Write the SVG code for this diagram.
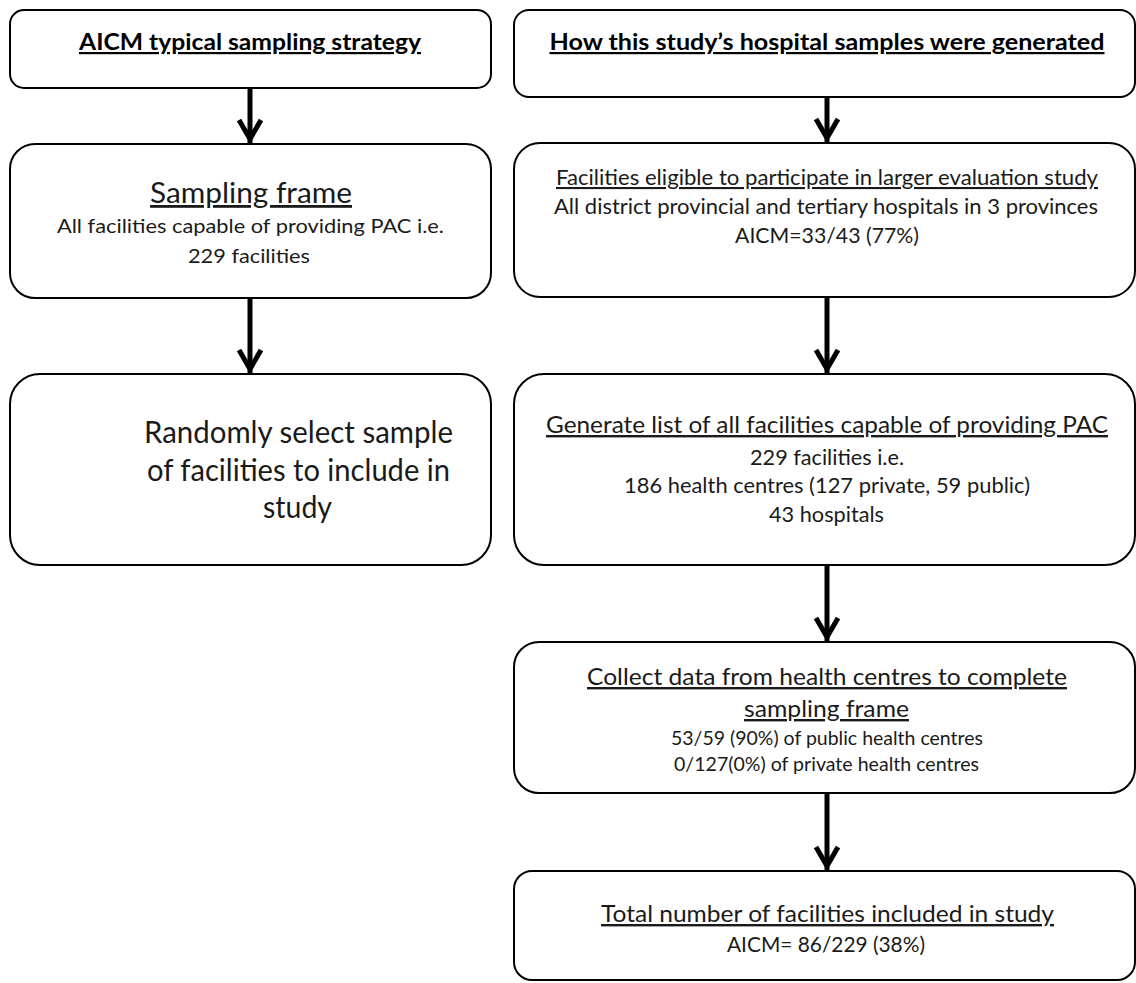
<svg xmlns="http://www.w3.org/2000/svg" width="1136" height="983" viewBox="0 0 1136 983">
<defs>
<style>
.box{fill:#fff;stroke:#000;stroke-width:2}
.t{font-family:Lato,"Open Sans","Liberation Sans",sans-serif;font-weight:400;fill:#1a1a1a;text-anchor:middle}
.b{font-weight:700;fill:#000}
.u{text-decoration:underline}
.conn{stroke:#000;stroke-width:5;fill:none}
</style>
<marker id="arr" markerUnits="userSpaceOnUse" viewBox="-30 -15 34 30" markerWidth="34" markerHeight="30" refX="0" refY="0" orient="auto">
<path d="M-24,-11 L-5,0 L-24,11" fill="none" stroke="#000" stroke-width="5" stroke-linejoin="miter"/>
</marker>
</defs>
<rect width="1136" height="983" fill="#fff"/>
<g id="connectors">
<line class="conn" x1="250" y1="89" x2="250" y2="144" marker-end="url(#arr)"/>
<line class="conn" x1="250" y1="299" x2="250" y2="374" marker-end="url(#arr)"/>
<line class="conn" x1="827" y1="98" x2="827" y2="143" marker-end="url(#arr)"/>
<line class="conn" x1="827" y1="298" x2="827" y2="374" marker-end="url(#arr)"/>
<line class="conn" x1="827" y1="566" x2="827" y2="642" marker-end="url(#arr)"/>
<line class="conn" x1="827" y1="794" x2="827" y2="871" marker-end="url(#arr)"/>
</g>
<g id="left-title">
<rect class="box" x="10" y="10" width="481" height="78" rx="14" ry="14"/>
<text class="t b u" x="250" y="50" font-size="22" textLength="342" lengthAdjust="spacingAndGlyphs">AICM typical sampling strategy</text>
</g>
<g id="left-sampling-frame">
<rect class="box" x="10" y="144" width="481" height="154" rx="25" ry="25"/>
<text class="t u" x="251" y="203" font-size="28" textLength="202" lengthAdjust="spacingAndGlyphs">Sampling frame</text>
<text class="t" x="250.5" y="233" font-size="20" textLength="387" lengthAdjust="spacingAndGlyphs">All facilities capable of providing PAC i.e.</text>
<text class="t" x="249" y="263" font-size="20" textLength="122" lengthAdjust="spacingAndGlyphs">229 facilities</text>
</g>
<g id="left-random-select">
<rect class="box" x="10" y="374" width="481" height="191" rx="30" ry="30"/>
<text class="t" x="298.5" y="443" font-size="31" textLength="309" lengthAdjust="spacingAndGlyphs">Randomly select sample</text>
<text class="t" x="298.5" y="481" font-size="31" textLength="303" lengthAdjust="spacingAndGlyphs">of facilities to include in</text>
<text class="t" x="297.5" y="518" font-size="31" textLength="69" lengthAdjust="spacingAndGlyphs">study</text>
</g>
<g id="right-title">
<rect class="box" x="514" y="10" width="621" height="87" rx="15" ry="15"/>
<text class="t b u" x="827" y="50" font-size="22" textLength="555" lengthAdjust="spacingAndGlyphs">How this study’s hospital samples were generated</text>
</g>
<g id="right-eligible">
<rect class="box" x="514" y="143" width="621" height="154" rx="26" ry="26"/>
<text class="t u" x="827" y="185" font-size="21" textLength="542" lengthAdjust="spacingAndGlyphs">Facilities eligible to participate in larger evaluation study</text>
<text class="t" x="826" y="214" font-size="21" textLength="544" lengthAdjust="spacingAndGlyphs">All district provincial and tertiary hospitals in 3 provinces</text>
<text class="t" x="827" y="243" font-size="21" textLength="184" lengthAdjust="spacingAndGlyphs">AICM=33/43 (77%)</text>
</g>
<g id="right-list">
<rect class="box" x="514" y="374" width="621" height="191" rx="30" ry="30"/>
<text class="t u" x="827" y="433" font-size="24" textLength="562" lengthAdjust="spacingAndGlyphs">Generate list of all facilities capable of providing PAC</text>
<text class="t" x="827" y="465" font-size="21" textLength="154" lengthAdjust="spacingAndGlyphs">229 facilities i.e.</text>
<text class="t" x="827" y="493" font-size="21" textLength="406" lengthAdjust="spacingAndGlyphs">186 health centres (127 private, 59 public)</text>
<text class="t" x="826.5" y="522" font-size="21" textLength="115" lengthAdjust="spacingAndGlyphs">43 hospitals</text>
</g>
<g id="right-collect">
<rect class="box" x="514" y="642" width="621" height="151" rx="25" ry="25"/>
<text class="t u" x="827" y="685" font-size="24" textLength="480" lengthAdjust="spacingAndGlyphs">Collect data from health centres to complete</text>
<text class="t u" x="826.5" y="717" font-size="24" textLength="165" lengthAdjust="spacingAndGlyphs">sampling frame</text>
<text class="t" x="827" y="745" font-size="19" textLength="312" lengthAdjust="spacingAndGlyphs">53/59 (90%) of public health centres</text>
<text class="t" x="826.5" y="771" font-size="19" textLength="305" lengthAdjust="spacingAndGlyphs">0/127(0%) of private health centres</text>
</g>
<g id="right-total">
<rect class="box" x="514" y="871" width="621" height="109" rx="18" ry="18"/>
<text class="t u" x="827.5" y="922" font-size="24" textLength="453" lengthAdjust="spacingAndGlyphs">Total number of facilities included in study</text>
<text class="t" x="826" y="952" font-size="21" textLength="198" lengthAdjust="spacingAndGlyphs">AICM= 86/229 (38%)</text>
</g>
</svg>
